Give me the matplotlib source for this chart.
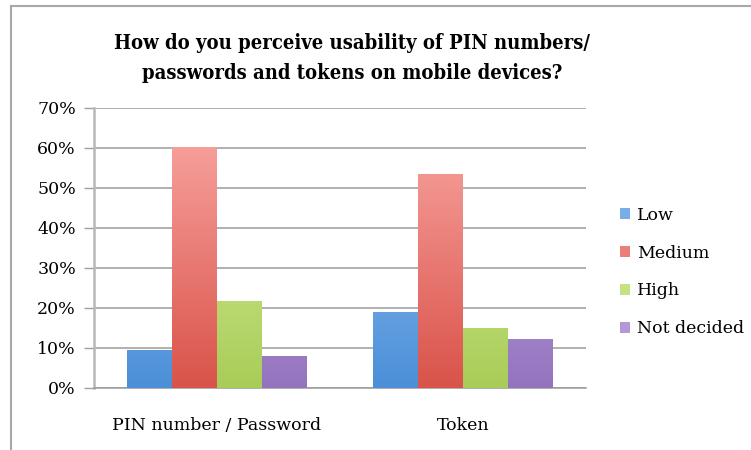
import matplotlib
matplotlib.use("Agg")
import matplotlib.pyplot as plt
import numpy as np
from matplotlib.colors import LinearSegmentedColormap
from matplotlib.patches import Patch
from matplotlib.lines import Line2D

categories = ["PIN number / Password", "Token"]
series_names = ["Low", "Medium", "High", "Not decided"]
low = [9.5, 19.1]
medium = [60.2, 53.5]
high = [21.8, 14.9]
not_decided = [8.1, 12.2]
values = [low, medium, high, not_decided]
yticks = [0, 10, 20, 30, 40, 50, 60, 70]

top_colors = ["#a7cbf7", "#fbaaa6", "#e2f8a8", "#d1bdf0"]
bottom_colors = ["#4a8fd8", "#d9534a", "#a8cc58", "#9373be"]
mid_colors = ["#78aee8", "#ea7e78", "#c6e280", "#b298d8"]

serif = ["DejaVu Serif", "Liberation Serif"]
plt.rcParams["font.family"] = serif

fig = plt.figure(figsize=(7.51, 4.5), dpi=100)
ax = fig.add_axes([94/751, 1-388/450, (586-94)/751, (388-108)/450])

n = len(series_names)
width = 0.182
x = np.arange(len(categories))
for i, (name, vals) in enumerate(zip(series_names, values)):
    offs = (i - (n-1)/2) * width
    bars = ax.bar(x + offs, vals, width, color="none", edgecolor="none", zorder=3)
    cmap = LinearSegmentedColormap.from_list(name, [bottom_colors[i], top_colors[i]])
    for b in bars:
        x0, y0 = b.get_x(), b.get_y()
        w, h = b.get_width(), b.get_height()
        grad = np.linspace(0, 1, 256).reshape(-1, 1)
        im = ax.imshow(grad, cmap=cmap, origin="lower", aspect="auto",
                       extent=[x0, x0 + w, y0, y0 + 70], zorder=3)
        im.set_clip_path(b)

ax.set_xlim(-0.5, 1.5)
ax.set_ylim(0, 70)
ax.set_yticks(yticks)
ax.set_yticklabels([f"{t}%" for t in yticks], fontsize=12.5)
ax.set_xticks(x)
ax.set_xticklabels(categories, fontsize=12.5)
ax.tick_params(axis="x", length=0, pad=21)
ax.tick_params(axis="y", length=7, color="#a0a0a0", width=1, pad=6)
ax.yaxis.grid(True, color="#9a9a9a", linewidth=1.1, zorder=0)
ax.set_axisbelow(True)
for s in ["top", "right"]:
    ax.spines[s].set_visible(False)
ax.spines["left"].set_color("#b8b8b8")
ax.spines["left"].set_linewidth(1.8)
ax.spines["bottom"].set_color("#9a9a9a")
ax.spines["bottom"].set_linewidth(1.1)

fig.text(352/751, 1-58/450,
         "How do you perceive usability of PIN numbers/\npasswords and tokens on mobile devices?",
         ha="center", va="center", fontsize=14.5, fontweight="bold", linespacing=1.6,
         fontstretch="condensed")

handles = [Patch(facecolor=c, edgecolor="none") for c in mid_colors]
fig.legend(handles, series_names, loc="center left",
           bbox_to_anchor=(604/751, 1-272/450), frameon=False,
           fontsize=12.5, handlelength=0.6, handleheight=0.6,
           handletextpad=0.4, labelspacing=1.2)

fig.add_artist(Line2D([11/751, 11/751], [0, 1-6/450], color="#a8a8a8", linewidth=1.5))
fig.add_artist(Line2D([11/751, 1], [1-6/450, 1-6/450], color="#a8a8a8", linewidth=1.5))

fig.savefig("out.png", dpi=100)
